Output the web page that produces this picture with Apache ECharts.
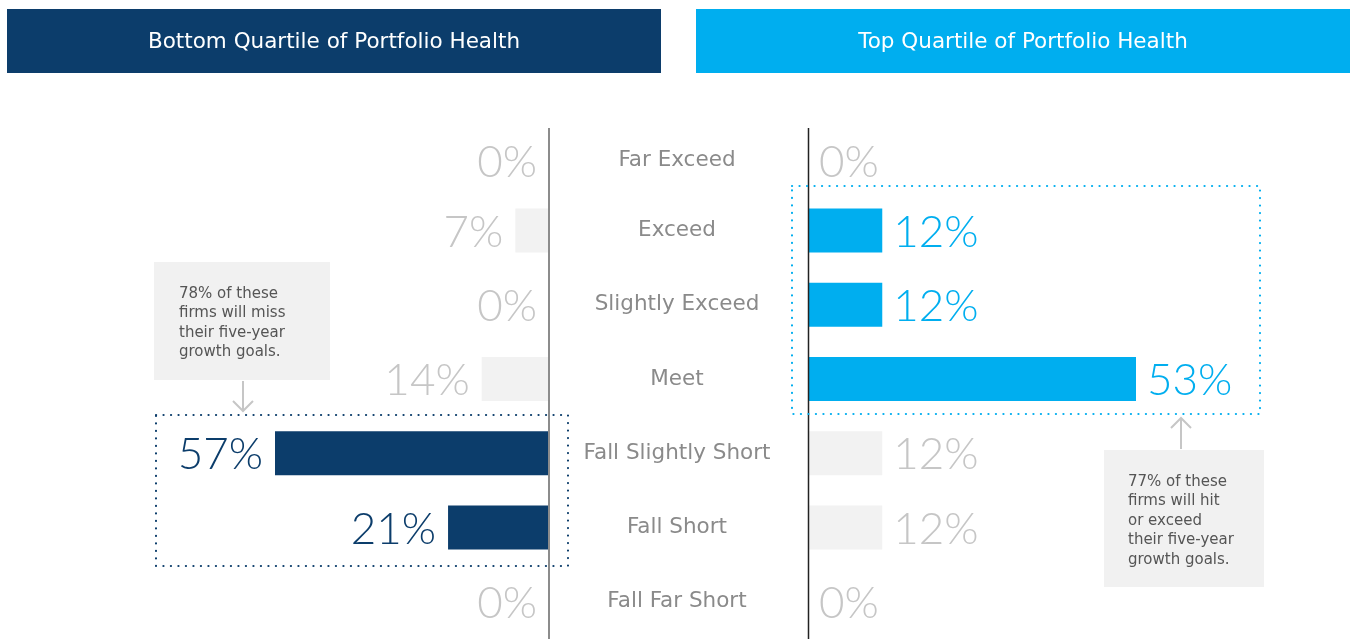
<!DOCTYPE html>
<html>
<head>
<meta charset="utf-8">
<script src="https://cdn.jsdelivr.net/npm/echarts@6/dist/echarts.min.js"></script>
<style>
  html, body { margin: 0; padding: 0; background: #fff; }
  #chart { width: 1351px; height: 639px; }
</style>
</head>
<body>
<div id="chart"></div>
<script>
// Expected outcome vs. five-year growth goals, by portfolio-health quartile
const categories = ['Far Exceed', 'Exceed', 'Slightly Exceed', 'Meet', 'Fall Slightly Short', 'Fall Short', 'Fall Far Short'];
const bottomQuartile = [0, 7, 0, 14, 57, 21, 0];
const topQuartile = [0, 12, 12, 53, 12, 12, 0];
const bottomHighlight = [false, false, false, false, true, true, false];
const topHighlight = [false, true, true, true, false, false, false];
const panelTitles = ['Bottom Quartile of Portfolio Health', 'Top Quartile of Portfolio Health'];
const bottomNote = ['78% of these', 'firms will miss', 'their five-year', 'growth goals.'];
const topNote = ['77% of these', 'firms will hit', 'or exceed', 'their five-year', 'growth goals.'];

const NAVY = '#0c3d6b';
const CYAN = '#00aeef';
const PALE = '#f2f2f2';
const MUTED = '#c6c6c6';
const FONT = '"DejaVu Sans", "Open Sans", sans-serif';
const NUM_FONT = 'Lato, "Open Sans", sans-serif';

function barData(values, flags, hiColor) {
  return values.map((v, i) => ({
    value: v,
    itemStyle: { color: flags[i] ? hiColor : PALE },
    // the top row's value sits a little lower than its slot
    label: { color: flags[i] ? hiColor : MUTED, offset: [0, i === 0 ? 7 : 2] }
  }));
}

const chart = echarts.init(document.getElementById('chart'));

function noteText(lines, x, y) {
  return {
    type: 'text', left: x, top: y,
    style: { text: lines.join('\n'), font: '15px ' + FONT, fill: '#555', lineHeight: 19.5 }
  };
}

chart.setOption({
  animation: false,
  grid: [
    { left: 275, right: 802, top: 119, bottom: 0 },
    { left: 808, right: 215, top: 119, bottom: 0 }
  ],
  xAxis: [
    { gridIndex: 0, type: 'value', min: 0, max: 57, inverse: true, show: false },
    { gridIndex: 1, type: 'value', min: 0, max: 53, show: false }
  ],
  yAxis: [
    {
      gridIndex: 0, type: 'category', data: categories, inverse: true, position: 'right',
      axisLine: { show: false }, axisTick: { show: false }, splitLine: { show: false },
      axisLabel: {
        align: 'center', margin: 128, fontFamily: FONT, fontSize: 21.5, color: '#8a8a8a',
        formatter: (v, i) => i === 0 ? '{first|' + v + '}' : v,
        rich: { first: { fontFamily: FONT, fontSize: 21.5, color: '#8a8a8a', padding: [8, 0, 0, 0] } }
      }
    },
    {
      gridIndex: 1, type: 'category', data: categories, inverse: true,
      axisLine: { show: false }, axisTick: { show: false }, axisLabel: { show: false }, splitLine: { show: false }
    }
  ],
  series: [
    {
      type: 'bar', xAxisIndex: 0, yAxisIndex: 0, barWidth: 44,
      data: barData(bottomQuartile, bottomHighlight, NAVY),
      label: { show: true, position: 'left', distance: 12, formatter: '{c}%', fontFamily: NUM_FONT, fontWeight: 300, fontSize: 44 }
    },
    {
      type: 'bar', xAxisIndex: 1, yAxisIndex: 1, barWidth: 44,
      data: barData(topQuartile, topHighlight, CYAN),
      label: { show: true, position: 'right', distance: 11, formatter: '{c}%', fontFamily: NUM_FONT, fontWeight: 300, fontSize: 44 }
    }
  ],
  graphic: [
    // panel headers
    { type: 'rect', shape: { x: 7, y: 9, width: 654, height: 64 }, style: { fill: NAVY } },
    { type: 'rect', shape: { x: 696, y: 9, width: 654, height: 64 }, style: { fill: CYAN } },
    { type: 'text', x: 334, y: 42, style: { text: panelTitles[0], font: '21.5px ' + FONT, fill: '#fff', textAlign: 'center', textVerticalAlign: 'middle' } },
    { type: 'text', x: 1023, y: 42, style: { text: panelTitles[1], font: '21.5px ' + FONT, fill: '#fff', textAlign: 'center', textVerticalAlign: 'middle' } },
    // centre divider lines
    { type: 'line', shape: { x1: 549, y1: 128, x2: 549, y2: 639 }, style: { stroke: '#8c8c8c', lineWidth: 2 }, z: 10 },
    { type: 'line', shape: { x1: 808.5, y1: 128, x2: 808.5, y2: 639 }, style: { stroke: '#222', lineWidth: 1.5 }, z: 10 },
    // dotted call-out frames
    { type: 'rect', shape: { x: 156, y: 415, width: 412, height: 151 }, style: { fill: 'none', stroke: NAVY, lineWidth: 2.2, lineDash: [0.1, 7.4], lineCap: 'round' }, z: 11 },
    { type: 'rect', shape: { x: 792, y: 186, width: 468, height: 228 }, style: { fill: 'none', stroke: CYAN, lineWidth: 2.2, lineDash: [0.1, 7.4], lineCap: 'round' }, z: 11 },
    // note boxes
    { type: 'rect', shape: { x: 154, y: 262, width: 176, height: 118 }, style: { fill: '#f1f1f1' } },
    noteText(bottomNote, 179, 284),
    { type: 'rect', shape: { x: 1104, y: 450, width: 160, height: 137 }, style: { fill: '#f1f1f1' } },
    noteText(topNote, 1128, 472),
    // arrows
    { type: 'polyline', shape: { points: [[243, 381], [243, 411]] }, style: { stroke: MUTED, lineWidth: 2, fill: 'none' } },
    { type: 'polyline', shape: { points: [[233, 401], [243, 411], [253, 401]] }, style: { stroke: MUTED, lineWidth: 2, fill: 'none' } },
    { type: 'polyline', shape: { points: [[1181, 449], [1181, 418]] }, style: { stroke: MUTED, lineWidth: 2, fill: 'none' } },
    { type: 'polyline', shape: { points: [[1171, 428], [1181, 418], [1191, 428]] }, style: { stroke: MUTED, lineWidth: 2, fill: 'none' } }
  ]
});
</script>
</body>
</html>
